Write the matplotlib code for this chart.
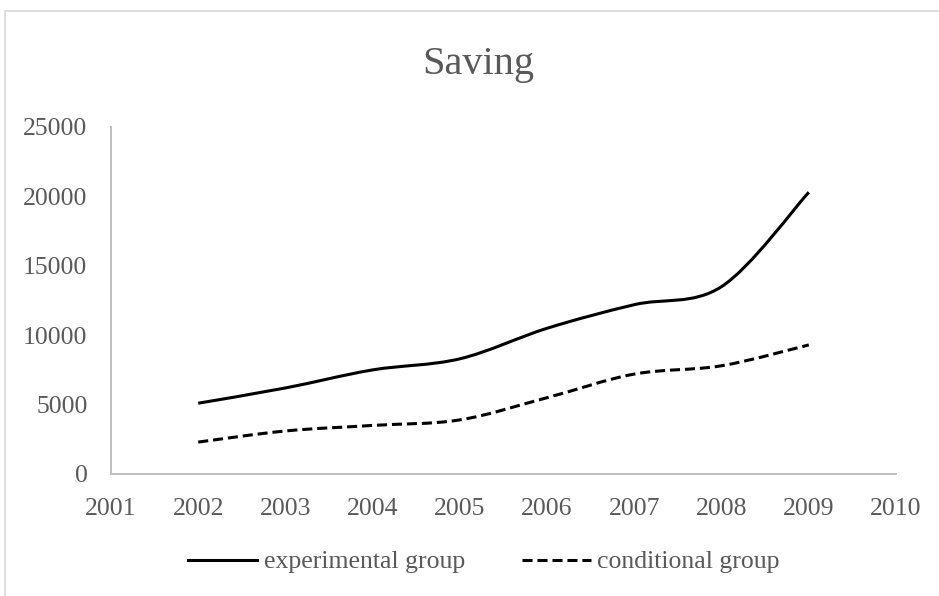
import matplotlib.pyplot as plt
from matplotlib.path import Path
from matplotlib.patches import PathPatch, Rectangle
from matplotlib.lines import Line2D

plt.rcParams['font.family'] = ['Liberation Serif', 'DejaVu Serif']

years = [2002, 2003, 2004, 2005, 2006, 2007, 2008, 2009]
experimental = [5100, 6200, 7500, 8300, 10500, 12200, 13500, 20300]
conditional = [2300, 3100, 3500, 3900, 5500, 7200, 7800, 9300]
x_ticks = list(range(2001, 2011))
y_ticks = [0, 5000, 10000, 15000, 20000, 25000]
grey = '#595959'


def smooth_path(xs, ys):
    # Excel-style smoothed line: cubic bezier through the points
    verts = [(xs[0], ys[0])]
    codes = [Path.MOVETO]
    n = len(xs)
    for i in range(n - 1):
        x0, y0 = (xs[i - 1], ys[i - 1]) if i > 0 else (xs[i], ys[i])
        x1, y1 = xs[i], ys[i]
        x2, y2 = xs[i + 1], ys[i + 1]
        x3, y3 = (xs[i + 2], ys[i + 2]) if i + 2 < n else (x2, y2)
        c1 = (x1 + (x2 - x0) / 6, y1 + (y2 - y0) / 6)
        c2 = (x2 - (x3 - x1) / 6, y2 - (y3 - y1) / 6)
        verts += [c1, c2, (x2, y2)]
        codes += [Path.CURVE4] * 3
    return Path(verts, codes)


fig = plt.figure(figsize=(9.39, 5.96), dpi=100)
fig.patches.append(Rectangle((5 / 939, -0.05), 1.0, 1 - 11 / 596 + 0.05,
                             transform=fig.transFigure, fill=False,
                             edgecolor='#d9d9d9', lw=1.2))
ax = fig.add_axes([111 / 939, 1 - 474 / 596, 785 / 939, 347 / 596])

p1 = PathPatch(smooth_path(years, experimental), fill=False, edgecolor='black',
               lw=2.2, capstyle='butt')
p2 = PathPatch(smooth_path(years, conditional), fill=False, edgecolor='black',
               lw=2.2, linestyle=(0, (3.3, 1.6)), capstyle='butt')
ax.add_patch(p1)
ax.add_patch(p2)

ax.set_xlim(2001, 2010)
ax.set_ylim(0, 25000)
ax.set_xticks(x_ticks)
ax.set_yticks(y_ticks)
ax.tick_params(length=0, labelsize=18.5, labelcolor=grey)
ax.tick_params(axis='y', pad=17)
ax.tick_params(axis='x', pad=17)
for s in ['top', 'right']:
    ax.spines[s].set_visible(False)
for s in ['left', 'bottom']:
    ax.spines[s].set_color('#bfbfbf')
    ax.spines[s].set_linewidth(1.4)

fig.text(478 / 939, 1 - 74 / 596, 'Saving', ha='center', va='baseline',
         fontsize=29, color=grey)

handles = [Line2D([], [], color='black', lw=2.2),
           Line2D([], [], color='black', lw=2.2, linestyle=(0, (3.3, 1.6)))]
fig.legend(handles, ['experimental group', 'conditional group'],
           loc='center', bbox_to_anchor=(484 / 939, 1 - 562 / 596), ncol=2,
           frameon=False, fontsize=18.5, labelcolor=grey, handlelength=2.7,
           handletextpad=0.25, columnspacing=2.2)

fig.savefig('out.png', dpi=100)
